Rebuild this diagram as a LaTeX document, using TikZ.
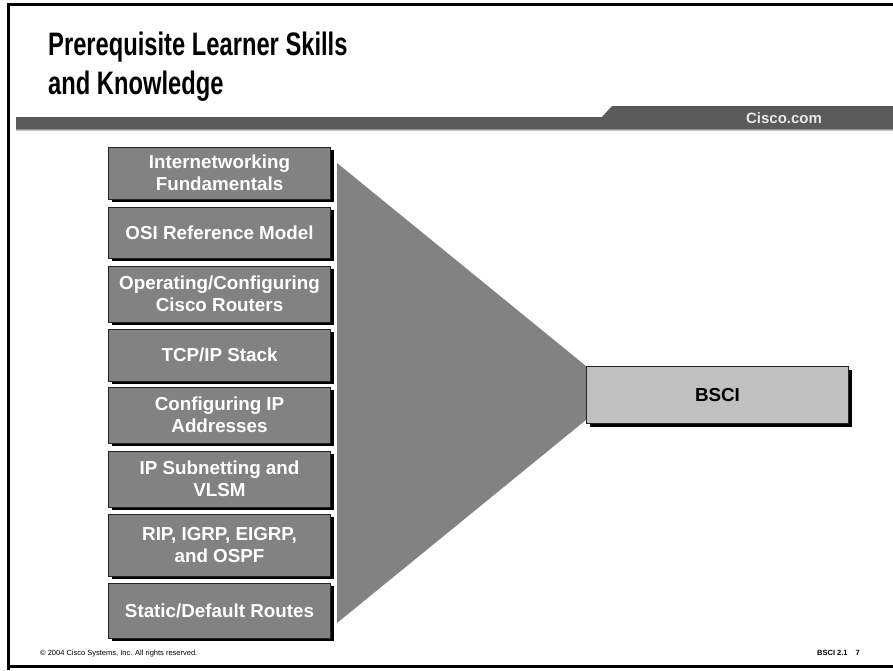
\documentclass[tikz,border=0pt]{standalone}
\usepackage{fontspec}
\setmainfont{Liberation Sans}
\newfontfamily\titlefont[FakeStretch=0.73]{Liberation Sans}
\usetikzlibrary{shadows}

\begin{document}
\begin{tikzpicture}[x=1pt,y=-1pt,
    topic/.style={draw=black1,line width=0.8pt,fill=gray2,text=white,inner sep=0pt,
        minimum width=222pt,align=center,font=\bfseries\fontsize{18.8}{22}\selectfont,
        drop shadow={shadow xshift=3pt,shadow yshift=-3pt,fill=black,opacity=1}},
    target/.style={topic,fill=gray3,text=black,minimum width=262pt,minimum height=57pt}]
\definecolor{black1}{RGB}{35,35,35}
\definecolor{gray1}{RGB}{90,90,90}
\definecolor{gray2}{RGB}{130,130,130}
\definecolor{gray3}{RGB}{192,192,192}
\definecolor{gray4}{RGB}{200,200,200}
\definecolor{gray5}{RGB}{232,232,232}
\useasboundingbox (0,0) rectangle (893,670);
\fill[white] (0,0) rectangle (893,670);
\draw[line width=3pt] (8.5,670) -- (8.5,4.5) -- (893,4.5);
\draw[line width=2.5pt] (7,666.5) -- (893,666.5);
\fill[gray1] (16,117) -- (602,117) -- (612,106) -- (893,106) -- (893,129.5) -- (16,129.5) -- cycle;
\draw[gray4,line width=1pt] (16,130.5) -- (893,130.5);
\node[anchor=north west,inner sep=0pt,align=left,font=\titlefont\bfseries\fontsize{32.5}{39}\selectfont] (title) at (48,32) {Prerequisite Learner Skills\\and Knowledge};
\node[anchor=base,inner sep=0pt,text=gray5,font=\bfseries\fontsize{15}{18}\selectfont] (site) at (784,123) {Cisco.com};
\fill[gray2] (337,163) -- (619,393) -- (337,623) -- cycle;
\node[topic,minimum height=52pt] (inter) at (219.5,173) {Internetworking\\Fundamentals};
\node[topic,minimum height=51pt] (osi) at (219.5,232.5) {OSI Reference Model};
\node[topic,minimum height=56pt] (routers) at (219.5,294) {Operating/Configuring\\Cisco Routers};
\node[topic,minimum height=52pt] (tcpip) at (219.5,355) {TCP/IP Stack};
\node[topic,minimum height=56pt] (addr) at (219.5,415) {Configuring IP\\Addresses};
\node[topic,minimum height=56pt] (subnet) at (219.5,479) {IP Subnetting and\\VLSM};
\node[topic,minimum height=62pt] (igp) at (219.5,545) {RIP, IGRP, EIGRP,\\and OSPF};
\node[topic,minimum height=55pt] (static) at (219.5,610.5) {Static/Default Routes};
\node[target] (bsci) at (717.5,395) {BSCI};
\node[anchor=base west,inner sep=0pt,font=\fontsize{7.5}{9}\selectfont] (copy) at (40,655) {\textcopyright{} 2004 Cisco Systems, Inc. All rights reserved.};
\node[anchor=base east,inner sep=0pt,font=\bfseries\fontsize{7.5}{9}\selectfont] (page) at (860,655) {BSCI 2.1\hspace{8pt}7};
\end{tikzpicture}
\end{document}
